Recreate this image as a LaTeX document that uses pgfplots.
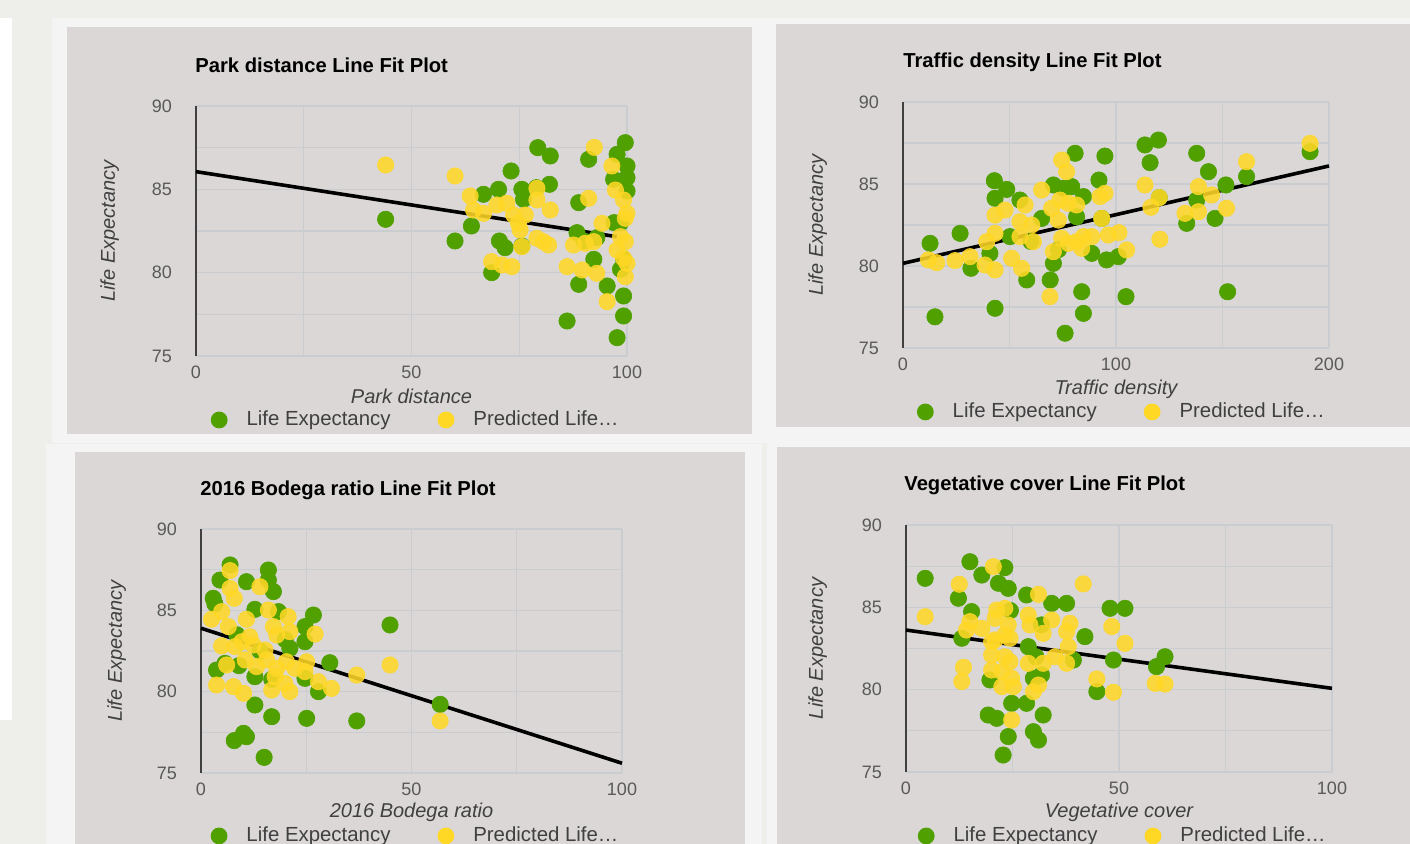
\documentclass[border=0pt]{standalone}
\usepackage{fontspec}
\setmainfont{Liberation Sans}
\usepackage{pgfplots}
\pgfplotsset{compat=1.18}
\definecolor{pagebg}{HTML}{EEEFEB}
\definecolor{sheet}{HTML}{F4F4F4}
\definecolor{panel}{HTML}{DAD7D6}
\definecolor{gridc}{HTML}{CACDCF}
\definecolor{greenc}{HTML}{50A000}
\definecolor{yellowc}{HTML}{FFD826}
\definecolor{tickc}{HTML}{595959}
\definecolor{labc}{HTML}{404040}
\pgfplotsset{
  lfp/.style={
    scale only axis, clip=false, anchor=south west,
    axis y line*=left, axis x line*=bottom,
    y axis line style={draw=labc, line width=0.75pt, -},
    x axis line style={draw=none, -},
    ymin=75, ymax=90, ytick={75,80,85,90}, minor ytick={77.5,82.5,87.5},
    grid=both,
    major grid style={draw=gridc, line width=0.6pt},
    minor grid style={draw=gridc, line width=0.6pt},
    tick style={draw=none},
    /pgf/number format/assume math mode=true,
    ticklabel style={font=\fontsize{9}{10}\selectfont, text=tickc},
    yticklabel style={xshift=-8.5pt},
    xticklabel style={yshift=-1.3pt},
    title style={font=\bfseries\fontsize{10.1}{12}\selectfont, text=black, anchor=west, inner sep=0pt},
    xlabel style={font=\itshape\fontsize{10}{12}\selectfont, text=labc, anchor=center, inner sep=0pt},
    ylabel style={font=\itshape\fontsize{10}{12}\selectfont, text=labc, anchor=center, inner sep=0pt},
    legend style={draw=none, fill=none, font=\fontsize{10.2}{12}\selectfont, text=labc,
      legend columns=2, anchor=center},
  },
  gpt/.style={only marks, mark=*, mark size=4.1pt,
    mark options={draw=greenc, fill=greenc, line width=0.3pt},
    legend image code/.code={\path[draw=none,fill=none] (0pt,-1pt) rectangle (15.9pt,1pt); \fill[greenc,draw=none] (4.2pt,0pt) circle (4.2pt);}},
  ypt/.style={only marks, mark=*, mark size=4.1pt,
    mark options={draw=yellowc, fill=yellowc, line width=0.3pt, opacity=0.87},
    legend image code/.code={\path[draw=none,fill=none] (0pt,-1pt) rectangle (15.9pt,1pt); \fill[yellowc,draw=none] (4.2pt,0pt) circle (4.2pt);}},
  fitl/.style={black, line width=1.8pt, forget plot},
}
\newcommand{\LE}{Life Expectancy\hspace*{21.5pt}}
\begin{document}
\begin{tikzpicture}
\useasboundingbox (0,0) rectangle (705pt,422pt);
\clip (0,0) rectangle (705pt,422pt);
\begin{scope}[x=0.5pt,y=0.5pt]
\fill[pagebg] (0,0) rectangle (1410,844);
\fill[white] (0,124) rectangle (12,826);
\fill[sheet] (52,401) rectangle (1410,826);
\fill[sheet] (46,0) rectangle (762,400);
\fill[sheet] (767,0) rectangle (1410,403);
\fill[panel] (67,410) rectangle (752,817);
\fill[panel] (776,417) rectangle (1410,820);
\fill[panel] (75,0) rectangle (745,392);
\fill[panel] (777,0) rectangle (1410,397);
\end{scope}

% Panel 1
\begin{axis}[lfp, at={(98pt,244pt)}, width=215.5pt, height=125pt,
  xmin=0, xmax=100, xtick={0,50,100}, minor xtick={25,75},
  title={Park distance Line Fit Plot}, xlabel={Park distance}, ylabel={Life Expectancy},
  title style={at={(axis description cs:0,1)}, yshift=14.5pt, xshift=-0.5pt},
  xlabel style={at={(axis description cs:0.5,-0.16)}},
  ylabel style={at={(axis description cs:-0.2,0.5)}},
  legend style={at={(axis description cs:0.512,-0.256)}}]
\addplot[gpt] coordinates {(44.0,83.2) (60.1,81.9) (63.9,82.8) (66.7,84.7) (70.2,85.0) (73.1,86.1) (68.6,80.0) (70.4,81.9) (71.7,81.5) (75.6,85.0) (76.0,84.4) (79.3,87.5) (82.2,87.0) (82.0,85.3) (79.0,85.1) (75.6,81.6) (88.8,84.2) (88.8,79.3) (86.1,77.1) (88.4,82.4) (91.1,86.8) (92.3,80.8) (95.4,79.2) (97.7,76.1) (99.6,87.8) (97.7,87.1) (100,86.4) (100,85.7) (96.9,85.6) (99.2,78.6) (99.2,77.4) (98.5,83.0) (99.2,80.8) (98.5,80.2) (90.0,81.9) (93.0,82.1) (100,84.9) (97.0,83.0)};
\addlegendentry{\LE}
\addplot[fitl] coordinates {(0,86.06) (97.6,82.16)};
\addplot[ypt] coordinates {(44.0,86.46) (60.1,85.8) (63.6,84.6) (64.4,83.76) (66.7,83.56) (68.6,80.66) (71.0,80.46) (73.3,80.36) (69.8,84.06) (72.1,84.16) (73.7,83.46) (74.8,82.96) (75.2,82.56) (76.4,83.46) (75.6,81.56) (79.1,85.06) (79.1,84.36) (82.2,83.76) (79.1,82.06) (81.8,81.66) (80.6,81.86) (91.1,84.46) (92.4,87.52) (96.5,86.4) (94.2,82.96) (87.6,81.66) (90.3,81.76) (92.3,81.86) (86.1,80.36) (89.6,80.16) (93.0,79.96) (95.4,78.26) (97.3,84.96) (99.2,84.36) (100,83.56) (99.6,83.26) (98.5,82.16) (99.6,81.86) (97.7,81.36) (99.2,80.86) (99.6,79.76) (100,80.56)};
\addlegendentry{Predicted Life…}
\end{axis}

% Panel 2
\begin{axis}[lfp, at={(451.5pt,248pt)}, width=213pt, height=123pt,
  xmin=0, xmax=200, xtick={0,100,200}, minor xtick={50,150},
  title={Traffic density Line Fit Plot}, xlabel={Traffic density}, ylabel={Life Expectancy},
  title style={at={(axis description cs:0,1)}, yshift=14pt, xshift=0pt},
  xlabel style={at={(axis description cs:0.5,-0.167)}},
  ylabel style={at={(axis description cs:-0.2,0.5)}},
  legend style={at={(axis description cs:0.516,-0.26)}}]
\addplot[gpt] coordinates {(12.7,81.38) (15.0,76.9) (26.8,81.99) (31.9,79.86) (42.9,85.2) (48.7,84.67) (43.2,84.13) (40.8,80.77) (43.2,77.42) (50.2,81.79) (54.9,84.02) (58.1,79.15) (65.1,82.9) (70.6,84.94) (75.3,84.74) (79.2,84.84) (80.8,86.87) (84.7,84.23) (70.6,80.16) (69.1,79.15) (76.1,75.9) (83.9,78.43) (84.7,77.11) (81.5,83.0) (88.6,80.77) (92.0,85.24) (94.8,86.7) (95.6,80.37) (101.1,80.57) (104.7,78.13) (113.6,87.38) (119.9,87.68) (116.0,86.3) (120.3,84.17) (133.2,82.6) (137.9,86.87) (137.9,84.02) (143.4,85.75) (146.5,82.9) (151.6,84.94) (152.4,78.43) (161.3,85.45) (191.1,86.97) (93.3,82.9) (60.0,81.5) (73.0,81.0)};
\addlegendentry{\LE}
\addplot[fitl] coordinates {(0,80.16) (200,86.1)};
\addplot[ypt] coordinates {(11.9,80.37) (15.8,80.2) (24.4,80.33) (31.5,80.57) (38.5,80.06) (43.2,79.76) (39.3,81.48) (43.2,81.99) (43.2,83.1) (47.9,83.41) (51.0,80.47) (55.7,79.86) (57.3,83.72) (54.9,82.7) (60.4,82.5) (54.9,81.79) (61.2,81.48) (65.1,84.63) (70.6,80.87) (69.0,78.13) (74.5,86.46) (76.8,85.75) (69.8,83.52) (73.7,84.02) (77.6,83.82) (81.5,83.72) (72.9,82.8) (74.5,81.69) (77.6,81.38) (81.5,81.48) (83.9,81.08) (84.7,81.79) (88.6,81.79) (92.5,84.23) (94.8,84.43) (93.3,82.9) (96.4,81.89) (101.4,82.03) (105.0,80.98) (113.6,84.94) (116.4,83.58) (120.3,84.17) (120.6,81.63) (132.4,83.21) (138.7,83.31) (138.7,84.84) (144.9,84.33) (151.9,83.52) (161.3,86.36) (191.1,87.48)};
\addlegendentry{Predicted Life…}
\end{axis}

% Panel 3
\begin{axis}[lfp, at={(100.5pt,35.5pt)}, width=210.5pt, height=122pt,
  xmin=0, xmax=100, xtick={0,50,100}, minor xtick={25,75},
  title={2016 Bodega ratio Line Fit Plot}, xlabel={2016 Bodega ratio}, ylabel={Life Expectancy},
  title style={at={(axis description cs:0,1)}, yshift=13.5pt, xshift=-0.5pt},
  xlabel style={at={(axis description cs:0.5,-0.16)}},
  ylabel style={at={(axis description cs:-0.2,0.5)}},
  legend style={at={(axis description cs:0.512,-0.258)}}]
\addplot[gpt] coordinates {(6.9,87.79) (4.5,86.86) (2.9,85.74) (10.8,86.76) (16.0,87.48) (16.0,86.86) (17.2,86.15) (12.8,85.06) (18.4,84.92) (26.7,84.71) (24.7,84.0) (24.7,83.07) (21.1,82.66) (30.6,81.78) (3.7,81.33) (12.8,80.92) (16.8,80.76) (27.9,80.0) (24.7,80.82) (44.9,84.1) (12.8,79.18) (16.8,78.46) (25.1,78.36) (37.0,78.2) (56.8,79.22) (10.1,77.44) (7.9,76.99) (10.8,77.23) (15.0,75.96) (5.7,81.74) (9.0,81.6) (3.3,85.4) (8.5,83.5) (14.0,82.5) (20.0,83.2)};
\addlegendentry{\LE}
\addplot[fitl] coordinates {(0,83.9) (100,75.6)};
\addplot[ypt] coordinates {(6.9,87.44) (6.9,86.35) (7.9,85.74) (14.0,86.45) (4.9,84.92) (2.5,84.45) (6.5,84.0) (10.8,84.45) (16.0,85.02) (20.7,84.61) (17.2,84.0) (21.1,83.69) (18.0,83.48) (27.1,83.54) (11.6,83.38) (9.7,83.07) (4.9,82.81) (8.1,82.77) (12.4,82.87) (15.2,82.56) (6.1,81.64) (10.5,81.95) (13.2,81.54) (15.6,81.95) (18.0,81.43) (20.3,81.84) (22.3,81.43) (25.1,81.84) (24.7,81.23) (17.6,80.92) (19.9,80.51) (27.9,80.61) (31.0,80.2) (37.0,81.02) (44.9,81.64) (3.7,80.41) (7.7,80.31) (10.1,79.9) (16.8,80.1) (21.1,80.0) (56.8,78.2)};
\addlegendentry{Predicted Life…}
\end{axis}

% Panel 4
\begin{axis}[lfp, at={(453pt,36pt)}, width=213pt, height=123.5pt,
  xmin=0, xmax=100, xtick={0,50,100}, minor xtick={25,75},
  title={Vegetative cover Line Fit Plot}, xlabel={Vegetative cover}, ylabel={Life Expectancy},
  title style={at={(axis description cs:0,1)}, yshift=14pt, xshift=-1pt},
  xlabel style={at={(axis description cs:0.5,-0.162)}},
  ylabel style={at={(axis description cs:-0.207,0.5)}},
  legend style={at={(axis description cs:0.511,-0.259)}}]
\addplot[gpt] coordinates {(4.5,86.76) (15.0,87.77) (17.8,86.96) (23.2,87.41) (21.7,86.46) (24.0,86.15) (12.3,85.55) (15.4,84.74) (13.1,83.12) (28.3,85.75) (34.2,85.24) (37.7,85.24) (31.8,83.93) (42.0,83.22) (28.7,82.61) (47.9,84.94) (51.4,84.94) (48.7,81.8) (58.8,81.4) (60.8,82.0) (44.8,79.88) (19.7,80.59) (29.9,80.69) (31.8,80.89) (24.8,79.17) (28.3,79.17) (19.3,78.46) (21.3,78.26) (32.2,78.46) (24.0,77.15) (29.9,77.45) (31.1,76.94) (22.8,76.03) (39.3,81.8) (24.5,84.8) (30.5,82.0)};
\addlegendentry{\LE}
\addplot[fitl] coordinates {(0,83.62) (100,80.08)};
\addplot[ypt] coordinates {(4.5,84.43) (12.5,86.4) (20.5,87.47) (31.1,85.79) (41.6,86.42) (21.3,84.84) (23.2,84.94) (15.0,84.13) (14.2,83.62) (17.8,83.72) (20.9,84.33) (24.0,83.93) (20.9,83.02) (23.2,83.32) (28.7,84.53) (29.1,83.93) (34.2,84.23) (32.2,83.42) (38.5,84.03) (37.7,83.52) (38.1,82.61) (20.1,82.91) (24.4,83.12) (20.1,82.1) (23.2,82.0) (20.1,81.19) (24.4,81.7) (28.7,81.6) (32.2,81.6) (35.0,82.0) (37.7,81.6) (22.5,81.09) (24.8,80.69) (22.5,80.18) (25.2,80.18) (29.9,79.88) (31.1,80.28) (13.5,81.36) (13.1,80.49) (24.8,78.16) (44.8,80.65) (48.3,83.83) (51.4,82.81) (48.7,79.84) (58.5,80.38) (60.8,80.34)};
\addlegendentry{Predicted Life…}
\end{axis}
\end{tikzpicture}
\end{document}
